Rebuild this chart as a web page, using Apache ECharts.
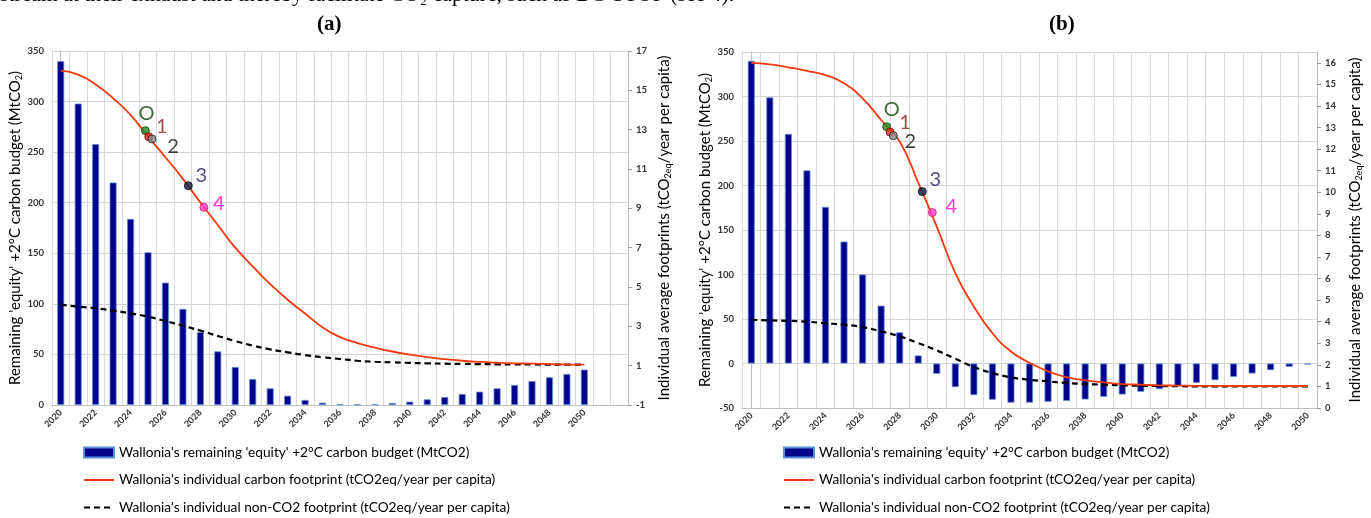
<!DOCTYPE html>
<html><head><meta charset="utf-8">
<script src="https://cdn.jsdelivr.net/npm/echarts@6/dist/echarts.min.js"></script>
<style>html,body{margin:0;padding:0;background:#fff}#c{width:1371px;height:518px}</style>
</head><body><div id="c"></div>
<script>
// ---------- DATA ----------
const yearsA = ['2020','2021','2022','2023','2024','2025','2026','2027','2028','2029','2030','2031','2032','2033','2034','2035','2036','2037','2038','2039','2040','2041','2042','2043','2044','2045','2046','2047','2048','2049','2050','2051','2052'];
const yearsB = ['2020','2021','2022','2023','2024','2025','2026','2027','2028','2029','2030','2031','2032','2033','2034','2035','2036','2037','2038','2039','2040','2041','2042','2043','2044','2045','2046','2047','2048','2049','2050'];

const budgetA = [340,298,258,220,184,151,121,95,72,53,37.6,25.7,16.5,9.2,5,2.3,0.8,0.5,0.5,2,3.3,5.6,7.9,10.9,13.2,16.5,19.8,23.7,27.4,30.7,35];
const carbonA = [16.0,15.8,15.3,14.6,13.75,12.65,11.6,10.5,9.3,8.15,7.0,6.05,5.15,4.35,3.65,2.95,2.45,2.15,1.92,1.72,1.56,1.43,1.33,1.25,1.19,1.15,1.12,1.1,1.08,1.06,1.05];
const nonCO2A = [4.1,4.0,3.92,3.8,3.66,3.49,3.27,3.03,2.78,2.51,2.25,2.02,1.83,1.68,1.54,1.43,1.34,1.25,1.2,1.17,1.14,1.12,1.1,1.09,1.08,1.07,1.06,1.06,1.05,1.05,1.05];

const budgetB = [340,299,258,217,176,137,100,65,35,9,-11.6,-26.5,-35.5,-40.7,-44,-44,-43,-42,-40.4,-37.4,-34.8,-31.8,-28.8,-25.4,-21.7,-18.7,-15,-11.2,-7.5,-3.7,-1.1];
const carbonB = [16.0,15.93,15.79,15.63,15.43,15.05,14.35,13.35,12.35,10.45,8.41,6.25,4.7,3.47,2.62,2.1,1.7,1.43,1.28,1.19,1.11,1.08,1.05,1.04,1.03,1.03,1.02,1.02,1.02,1.02,1.02];
const nonCO2B = [4.09,4.06,4.04,4.0,3.93,3.86,3.75,3.55,3.32,3.01,2.67,2.28,1.9,1.62,1.42,1.31,1.23,1.16,1.11,1.08,1.05,1.03,1.02,1.01,1.0,1.0,1.0,1.0,1.0,1.0,1.0];

const pointNames = ['O','1','2','3','4'];
const pointsAx = [4.85,5.04,5.23,7.31,8.2];
const pointsAy = [12.95,12.64,12.53,10.15,9.05];
const pointsBx = [7.30,7.48,7.66,9.22,9.76];
const pointsBy = [13.04,12.79,12.62,10.03,9.06];

const leftTicksA = [0,50,100,150,200,250,300,350];
const rightTicksA = [-1,1,3,5,7,9,11,13,15,17];
const leftTicksB = [-50,0,50,100,150,200,250,300,350];
const rightTicksB = [0,1,2,3,4,5,6,7,8,9,10,11,12,13,14,15,16];

const seriesNames = [
  "Wallonia's remaining 'equity' +2°C carbon budget (MtCO2)",
  "Wallonia's individual carbon footprint (tCO2eq/year per capita)",
  "Wallonia's individual non-CO2 footprint (tCO2eq/year per capita)"
];
const panelTitles = ['(a)','(b)'];
const leftAxisName = "{a|Remaining 'equity' +2°C carbon budget (MtCO}{s|2}{a|)}";
const rightAxisName = "{a|Individual average footprints (tCO}{s|2eq}{a|/year per capita)}";
const topLine = "stream at their exhaust and thereby facilitate CO\u2082 capture, such as BC-STOP (see 4).";

// ---------- STYLE ----------
const FONT = 'Lato';
const pointStyle = {
  'O': {fill:'#1f8a1f', border:'#0b3d0b', text:'#0d3f0d'},
  '1': {fill:'#e8261b', border:'#8b0000', text:'#8b1c1c'},
  '2': {fill:'#8a8a8a', border:'#1a1a1a', text:'#111111'},
  '3': {fill:'#10204c', border:'#000000', text:'#2b1b5e'},
  '4': {fill:'#ff40d0', border:'#d0145a', text:'#ff00cc'}
};
const labelOffA = {'O':[1,-17],'1':[13,-10],'2':[21,8],'3':[13,-10],'4':[15,-4]};
const labelOffB = {'O':[5,-17],'1':[15,-9],'2':[17,6],'3':[13,-12],'4':[19,-6]};

const nameRich = {
  a: {fontFamily: FONT, fontSize: 15, color: '#000'},
  s: {fontFamily: FONT, fontSize: 9, color: '#000', padding: [8,0,0,0]}
};

function makePanel(idx, cats, budget, carbon, nonco2, px, py, leftMin, leftMax, rightMin, rightMax, rightTicks, labelOff, gaps){
  const gi = idx;
  const xAxes = [
    {type:'category', gridIndex: gi, data: cats, boundaryGap: true,
     axisLine:{show:true, onZero:false, lineStyle:{color:'#bfbfbf'}},
     axisTick:{show:false},
     axisLabel:{interval:1, rotate:45, fontFamily:FONT, fontSize:9, fontWeight:'bold', color:'#333', margin:6,
       formatter: v => (+v > 2050 ? '' : v)},
     splitLine:{show:true, interval:0, lineStyle:{color:'#d9d9d9', width:1}}},
    {type:'value', gridIndex: gi, min: -0.5, max: cats.length - 0.5, show:false}
  ];
  const yAxes = [
    {type:'value', gridIndex: gi, min: leftMin, max: leftMax, interval: 50, position:'left',
     name: leftAxisName, nameLocation:'middle', nameGap: gaps[0], nameRotate: 90,
     nameTextStyle:{rich: nameRich},
     axisLine:{show:true, lineStyle:{color:'#bfbfbf'}}, axisTick:{show:false},
     axisLabel:{fontFamily:FONT, fontSize:9.5, fontWeight:'bold', color:'#333', margin:8},
     splitLine:{show:true, lineStyle:{color:'#d4d4d4', width:1}}},
    {type:'value', gridIndex: gi, min: rightMin, max: rightMax, position:'right',
     name: rightAxisName, nameLocation:'middle', nameGap: gaps[1], nameRotate: 90,
     nameTextStyle:{rich: nameRich},
     axisLine:{show:true, lineStyle:{color:'#bfbfbf'}},
     axisTick:{show:true, length:4, lineStyle:{color:'#999'}, customValues: rightTicks},
     axisLabel:{fontFamily:FONT, fontSize:9.5, fontWeight:'bold', color:'#333', margin:8, customValues: rightTicks},
     splitLine:{show:false}}
  ];
  const xi = idx*2, yi = idx*2;
  const series = [
    {name: seriesNames[0], type:'bar', xAxisIndex: xi, yAxisIndex: yi, data: budget, barWidth: 7,
     itemStyle:{color:'#00008b', borderColor:'#5b8fd6', borderWidth:0.8}, z:2},
    {name: seriesNames[1], type:'line', xAxisIndex: xi, yAxisIndex: yi+1, data: carbon, smooth: true, symbol:'none',
     lineStyle:{color:'#f23a0c', width:1.8}, itemStyle:{color:'#f23a0c'}, z:4},
    {name: seriesNames[2], type:'line', xAxisIndex: xi, yAxisIndex: yi+1, data: nonco2, smooth: true, symbol:'none',
     lineStyle:{color:'#000', width:2.2, type:[6,4]}, itemStyle:{color:'#000'}, z:3},
    {type:'scatter', xAxisIndex: xi+1, yAxisIndex: yi+1, symbolSize: 8, z:6,
     data: pointNames.map((n,i) => ({
       name: n, value: [px[i], py[i]],
       itemStyle:{color: pointStyle[n].fill, borderColor: pointStyle[n].border, borderWidth: 1},
       label:{show:true, formatter: n, position:'inside', offset: labelOff[n], color: pointStyle[n].text,
         fontFamily: FONT, fontSize: 20}
     }))}
  ];
  return {xAxes, yAxes, series};
}

const gridA = {left: 52, right: 1371-628, top: 51, bottom: 518-405, outerBoundsMode:'none'};
const gridB = {left: 742, right: 1371-1317, top: 52, bottom: 518-408, outerBoundsMode:'none'};

const pA = makePanel(0, yearsA, budgetA, carbonA, nonCO2A, pointsAx, pointsAy, 0, 350, -1, 17, rightTicksA, labelOffA, [23, 28]);
const pB = makePanel(1, yearsB, budgetB, carbonB, nonCO2B, pointsBx, pointsBy, -50, 350, 0, 16.5, rightTicksB, labelOffB, [22, 30]);

const legendData = [
  {name: seriesNames[0], icon: 'rect'},
  {name: seriesNames[1], itemStyle: {opacity: 0}},
  {name: seriesNames[2], itemStyle: {opacity: 0}}
];
const legendCommon = {
  orient:'vertical', itemWidth: 30, itemHeight: 10, itemGap: 10.5, height: 100,
  textStyle:{fontFamily: FONT, fontSize: 13.7, color:'#000', lineHeight: 17},
  data: legendData, selectedMode: false
};

const option = {
  animation: false,
  backgroundColor: '#fff',
  grid: [gridA, gridB],
  xAxis: pA.xAxes.concat(pB.xAxes),
  yAxis: pA.yAxes.concat(pB.yAxes),
  legend: [
    Object.assign({}, legendCommon, {left: 78, top: 439}),
    Object.assign({}, legendCommon, {left: 778, top: 439})
  ],
  graphic: [
    {type:'text', left: 0, top: -16, style:{text: topLine, font: '21.7px "Liberation Serif"', fill:'#000'}},
    {type:'text', left: 331-14, top: 14, style:{text: panelTitles[0], font: 'bold 21px "Liberation Serif"', fill:'#000'}},
    {type:'text', left: 1063-14, top: 14, style:{text: panelTitles[1], font: 'bold 21px "Liberation Serif"', fill:'#000'}}
  ],
  series: pA.series.concat(pB.series)
};

const chart = echarts.init(document.getElementById('c'), null, {renderer:'canvas'});
chart.setOption(option);
</script></body></html>
